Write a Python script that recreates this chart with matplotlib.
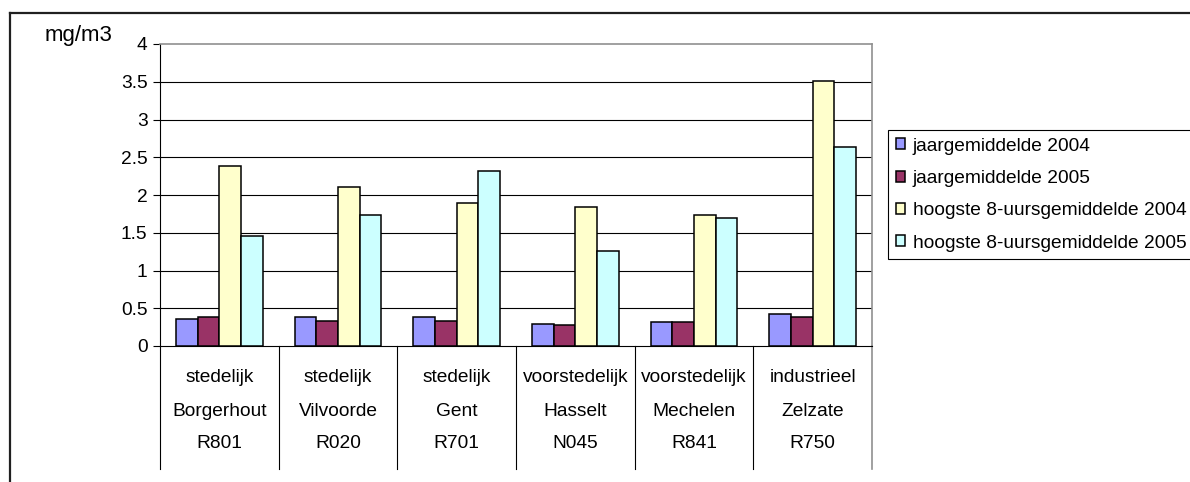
"""Recreate CO bar chart (mg/m3) for Flemish measuring stations."""

import matplotlib

matplotlib.use("Agg")
import matplotlib.pyplot as plt
import numpy as np
from matplotlib.lines import Line2D
from matplotlib.transforms import blended_transform_factory

plt.rcParams["font.family"] = ["Liberation Sans", "DejaVu Sans"]

# data
zone_types = ["stedelijk", "stedelijk", "stedelijk", "voorstedelijk", "voorstedelijk", "industrieel"]
places = ["Borgerhout", "Vilvoorde", "Gent", "Hasselt", "Mechelen", "Zelzate"]
station_codes = ["R801", "R020", "R701", "N045", "R841", "R750"]

series_labels = [
    "jaargemiddelde 2004",
    "jaargemiddelde 2005",
    "hoogste 8-uursgemiddelde 2004",
    "hoogste 8-uursgemiddelde 2005",
]
annual_2004 = [0.36, 0.38, 0.38, 0.29, 0.32, 0.42]
annual_2005 = [0.38, 0.335, 0.335, 0.28, 0.32, 0.38]
max8h_2004 = [2.39, 2.10, 1.90, 1.84, 1.74, 3.51]
max8h_2005 = [1.46, 1.74, 2.32, 1.26, 1.70, 2.64]
series_colors = ["#9999FF", "#993366", "#FFFFCC", "#CCFFFF"]

y_ticks = [0, 0.5, 1, 1.5, 2, 2.5, 3, 3.5, 4]

W, H = 1190, 482
FS = 13.8
fig = plt.figure(figsize=(W / 100, H / 100), dpi=100)
ax = fig.add_axes([160 / W, 1 - 346 / H, (872 - 160) / W, (346 - 44) / H])

x = np.arange(len(places))
width = 0.183
all_series = [annual_2004, annual_2005, max8h_2004, max8h_2005]
for k, (vals, color, label) in enumerate(zip(all_series, series_colors, series_labels)):
    ax.bar(x + (k - 1.5) * width, vals, width, color=color, edgecolor="black",
           linewidth=1.1, label=label, zorder=3)

ax.set_xlim(-0.5, len(places) - 0.5)
ax.set_ylim(0, 4)
ax.set_yticks(y_ticks)
ax.set_yticklabels([f"{t:g}" for t in y_ticks], fontsize=FS)
ax.tick_params(axis="y", direction="out", length=5, width=0.8, pad=4)
ax.set_xticks([])

for t in y_ticks[1:-1]:
    ax.axhline(t, color="black", linewidth=0.8, zorder=1)

for side in ["top", "right"]:
    ax.spines[side].set_color("#909090")
    ax.spines[side].set_linewidth(1.2)
ax.spines["left"].set_linewidth(0.8)
ax.spines["bottom"].set_linewidth(0.8)

# category table below the axis
trans = blended_transform_factory(ax.transData, ax.transAxes)
y_bottom = (346 - 469) / (346 - 44)
for b in np.arange(-0.5, len(places), 1.0):
    last = b > len(places) - 1
    ax.add_line(Line2D([b, b], [0, y_bottom], transform=trans,
                       color="#909090" if last else "black",
                       linewidth=1.2 if last else 0.8, clip_on=False))

row_y = [(346 - 378) / 302, (346 - 411) / 302, (346 - 444) / 302]
for i in range(len(places)):
    for row, txt in zip(row_y, [zone_types[i], places[i], station_codes[i]]):
        ax.text(x[i], row, txt, transform=trans, ha="center", va="center", fontsize=FS)

fig.text(79 / W, 1 - 36 / H, "mg/m3", ha="center", va="center", fontsize=16)

# outer chart frame (cut off at right and bottom)
fig.add_artist(Line2D([10 / W, 1.0], [1 - 13 / H, 1 - 13 / H], color="#202020", linewidth=1.6))
fig.add_artist(Line2D([10 / W, 10 / W], [0.0, 1 - 13 / H], color="#202020", linewidth=1.6))

leg = ax.legend(loc="upper left", bbox_to_anchor=(888 / W, 1 - 130 / H),
                bbox_transform=fig.transFigure, fontsize=FS, frameon=True,
                fancybox=False, framealpha=1, edgecolor="black",
                handlelength=0.5, handleheight=0.5, handletextpad=0.4,
                labelspacing=0.8, borderpad=0.4, borderaxespad=0)
leg.get_frame().set_linewidth(0.8)

fig.savefig("out.png", dpi=100)
